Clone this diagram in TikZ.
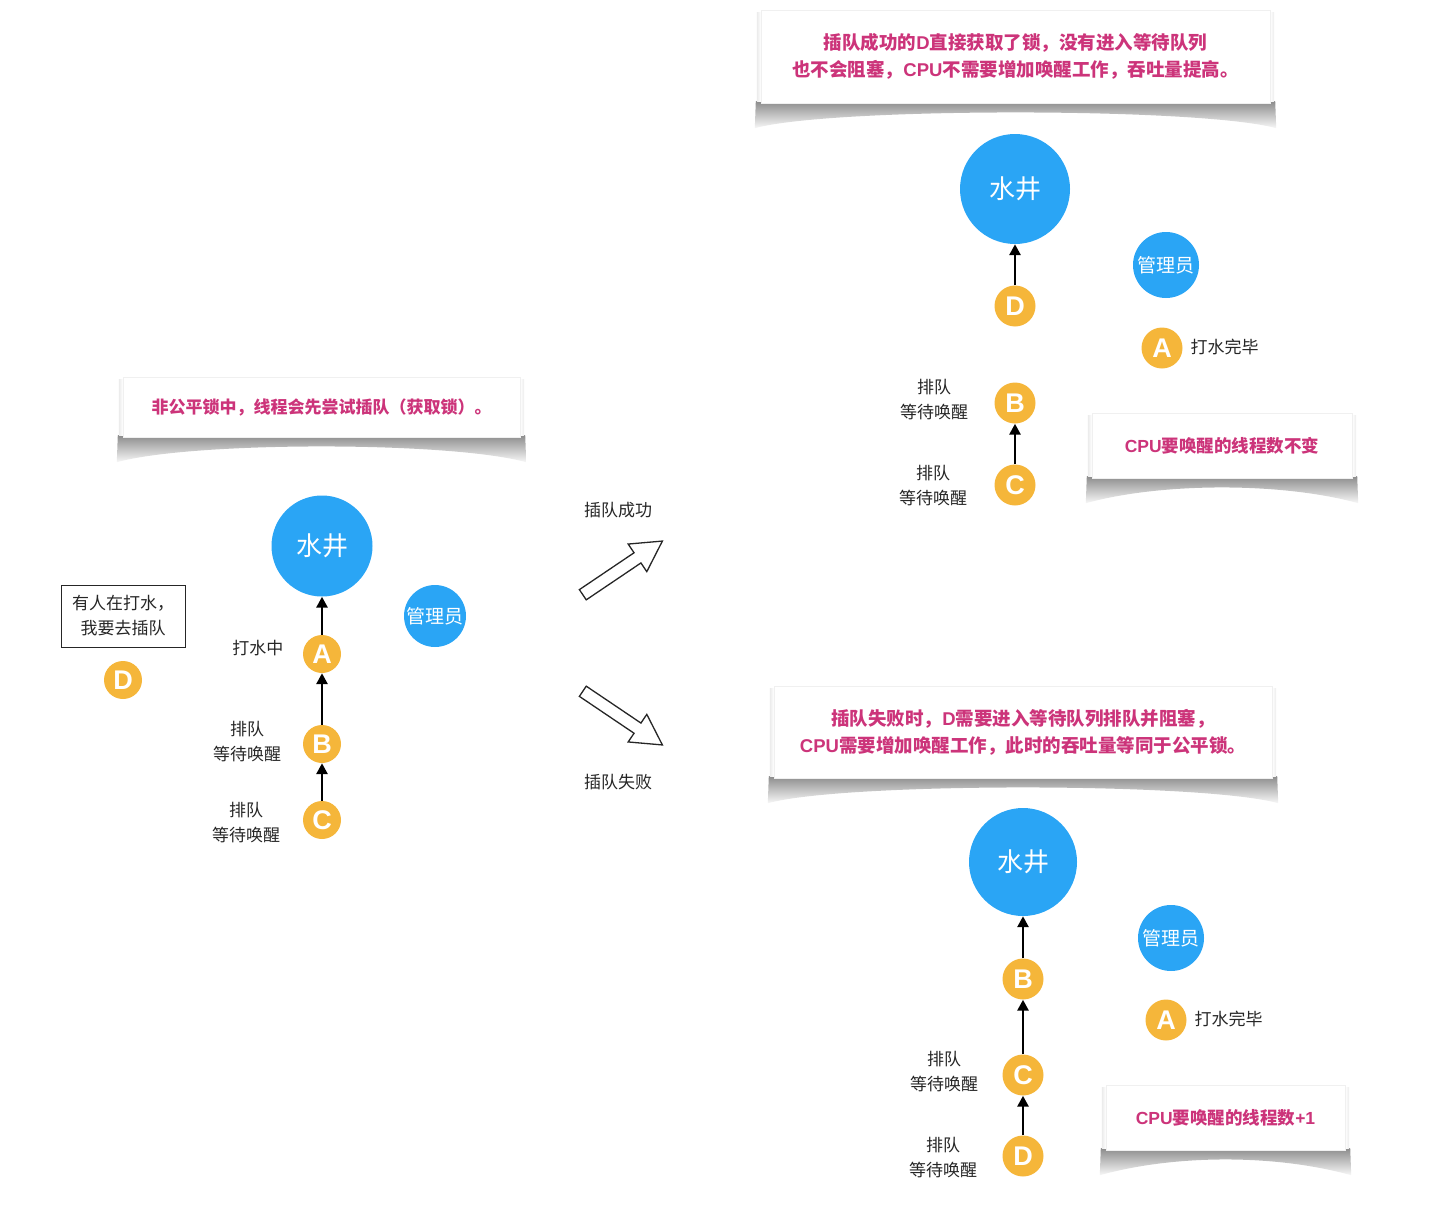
\documentclass[tikz,border=0pt]{standalone}
\usepackage{fontspec}
\setmainfont{Noto Sans CJK SC}
\newfontfamily\latin{Liberation Sans}
\usetikzlibrary{arrows.meta,shapes.arrows,backgrounds}
\definecolor{wellblue}{RGB}{42,165,245}
\definecolor{threadorange}{RGB}{245,182,58}
\definecolor{notepink}{RGB}{204,52,122}
\definecolor{labelgray}{RGB}{38,38,38}
\newcommand{\lat}[1]{{\latin\bfseries #1}}
\begin{document}
\begin{tikzpicture}[x=1pt, y=-1pt,
          well/.style={
            circle, fill=wellblue, inner sep=0pt, text=white,
            font=\fontsize{26}{26}\selectfont
          },
          keeper/.style={
            circle, fill=wellblue, inner sep=0pt, minimum size=64pt, text=white,
            font=\fontsize{19}{19}\selectfont
          },
          thread/.style={
            circle, fill=threadorange, inner sep=0pt, minimum size=41pt, text=white,
            font=\fontsize{27}{27}\latin\bfseries
          },
          conn/.style={-{Triangle[length=11pt, width=11pt]}, line width=2.7pt},
          lbl/.style={font=\fontsize{17}{25}\selectfont, text=labelgray, align=center},
          note/.style={
            fill=white, draw=black!6, inner sep=0pt, align=center, text=notepink,
            font=\fontsize{17}{27}\selectfont\bfseries
          },
          bigarrow/.style={
            single arrow, draw=black!85, line width=1.3pt, fill=white, inner sep=5.5pt,
            minimum height=96pt, single arrow head extend=10.5pt, single arrow tip angle=58
          },
        ]
          \useasboundingbox (0,0) rectangle (1451,1207);

          % --- Left: non-fair lock, D tries to cut in ---
          \node[note, minimum width=397pt, minimum height=60pt] (noteL) at (321.5, 407)
            {非公平锁中，线程会先尝试插队（获取锁）。};
          \node[well, minimum size=101pt] (wellL) at (322, 546) {水井};
          \node[keeper, minimum size=62pt] (keeperL) at (435, 616) {管理员};
          \node[thread, minimum size=38pt] (aL) at (322, 654) {A};
          \node[thread, minimum size=38pt] (bL) at (322, 744) {B};
          \node[thread, minimum size=38pt] (cL) at (322, 820) {C};
          \node[thread, minimum size=38pt] (dL) at (123, 680) {D};
          \node[lbl, anchor=east] (aLlbl) at (287, 648) {打水中};
          \node[lbl] (bLlbl) at (247, 742) {排队\\等待唤醒};
          \node[lbl] (cLlbl) at (246, 823) {排队\\等待唤醒};
          \node[lbl, draw=black!85, line width=1pt, minimum width=124pt, minimum height=62pt]
            (wishL) at (123, 616) {有人在打水，\\我要去插队};
          \draw[conn] (aL) -- (wellL);
          \draw[conn] (bL) -- (aL);
          \draw[conn] (cL) -- (bL);

          % --- Middle: the two outcomes ---
          \node[bigarrow, rotate=34] (okArrow) at (618, 571) {};
          \node[bigarrow, rotate=-34] (failArrow) at (618, 715) {};
          \node[lbl] (okLbl) at (618, 510) {插队成功};
          \node[lbl] (failLbl) at (618, 782) {插队失败};

          % --- Top right: cutting in succeeds ---
          \node[note, minimum width=509pt, minimum height=93pt, font=\fontsize{18.5}{27}\selectfont\bfseries]
            (noteS) at (1015.5, 56.5)
            {插队成功的\lat{D}直接获取了锁，没有进入等待队列\\也不会阻塞，\lat{CPU}不需要增加唤醒工作，吞吐量提高。};
          \node[well, minimum size=110pt] (wellS) at (1015, 189) {水井};
          \node[keeper, minimum size=66pt] (keeperS) at (1166, 265) {管理员};
          \node[thread] (dS) at (1015, 306) {D};
          \node[thread] (aS) at (1162, 348) {A};
          \node[thread] (bS) at (1015, 403) {B};
          \node[thread] (cS) at (1015, 485) {C};
          \node[lbl, anchor=west] (aSlbl) at (1187, 347) {打水完毕};
          \node[lbl] (bSlbl) at (934, 400) {排队\\等待唤醒};
          \node[lbl] (cSlbl) at (933, 486) {排队\\等待唤醒};
          \node[note, minimum width=260pt, minimum height=65pt, font=\fontsize{17.5}{27}\selectfont\bfseries]
            (cpuS) at (1222, 445.5) {\lat{CPU}要唤醒的线程数不变};
          \draw[conn] (dS) -- (wellS);
          \draw[conn] (cS) -- (bS);

          % --- Bottom right: cutting in fails ---
          \node[note, minimum width=498pt, minimum height=92pt, font=\fontsize{18.5}{27}\selectfont\bfseries]
            (noteF) at (1023, 732)
            {插队失败时，\lat{D}需要进入等待队列排队并阻塞，\\\lat{CPU}需要增加唤醒工作，此时的吞吐量等同于公平锁。};
          \node[well, minimum size=108pt] (wellF) at (1023, 862) {水井};
          \node[keeper, minimum size=66pt] (keeperF) at (1171, 938) {管理员};
          \node[thread] (bF) at (1023, 979) {B};
          \node[thread] (aF) at (1166, 1020) {A};
          \node[thread] (cF) at (1023, 1075) {C};
          \node[thread] (dF) at (1023, 1156) {D};
          \node[lbl, anchor=west] (aFlbl) at (1191, 1019) {打水完毕};
          \node[lbl] (cFlbl) at (944, 1072) {排队\\等待唤醒};
          \node[lbl] (dFlbl) at (943, 1158) {排队\\等待唤醒};
          \node[note, minimum width=239pt, minimum height=65pt, font=\fontsize{17.5}{27}\selectfont\bfseries]
            (cpuF) at (1225.5, 1117.5) {\lat{CPU}要唤醒的线程数\lat{+1}};
          \draw[conn] (bF) -- (wellF);
          \draw[conn] (cF) -- (bF);
          \draw[conn] (dF) -- (cF);

          % Curled shadows under the notes
          \begin{scope}[on background layer]
            \foreach \n in {noteL, noteS, cpuS, noteF, cpuF} {
              \shade[top color=black!45, bottom color=black!3]
                ([shift={(-5,-2)}]\n.south west) -- ([shift={(-6,25)}]\n.south west)
                .. controls ([shift={(70,4)}]\n.south west) and ([shift={(-70,4)}]\n.south east)
                .. ([shift={(6,25)}]\n.south east) -- ([shift={(5,-2)}]\n.south east) -- cycle;
              \shade[left color=black!8, right color=white]
                ([shift={(-4,3)}]\n.north west) rectangle ([shift={(0,-2)}]\n.south west);
              \shade[right color=black!8, left color=white]
                ([shift={(0,3)}]\n.north east) rectangle ([shift={(4,-2)}]\n.south east);
            }
          \end{scope}
        \end{tikzpicture}
\end{document}
